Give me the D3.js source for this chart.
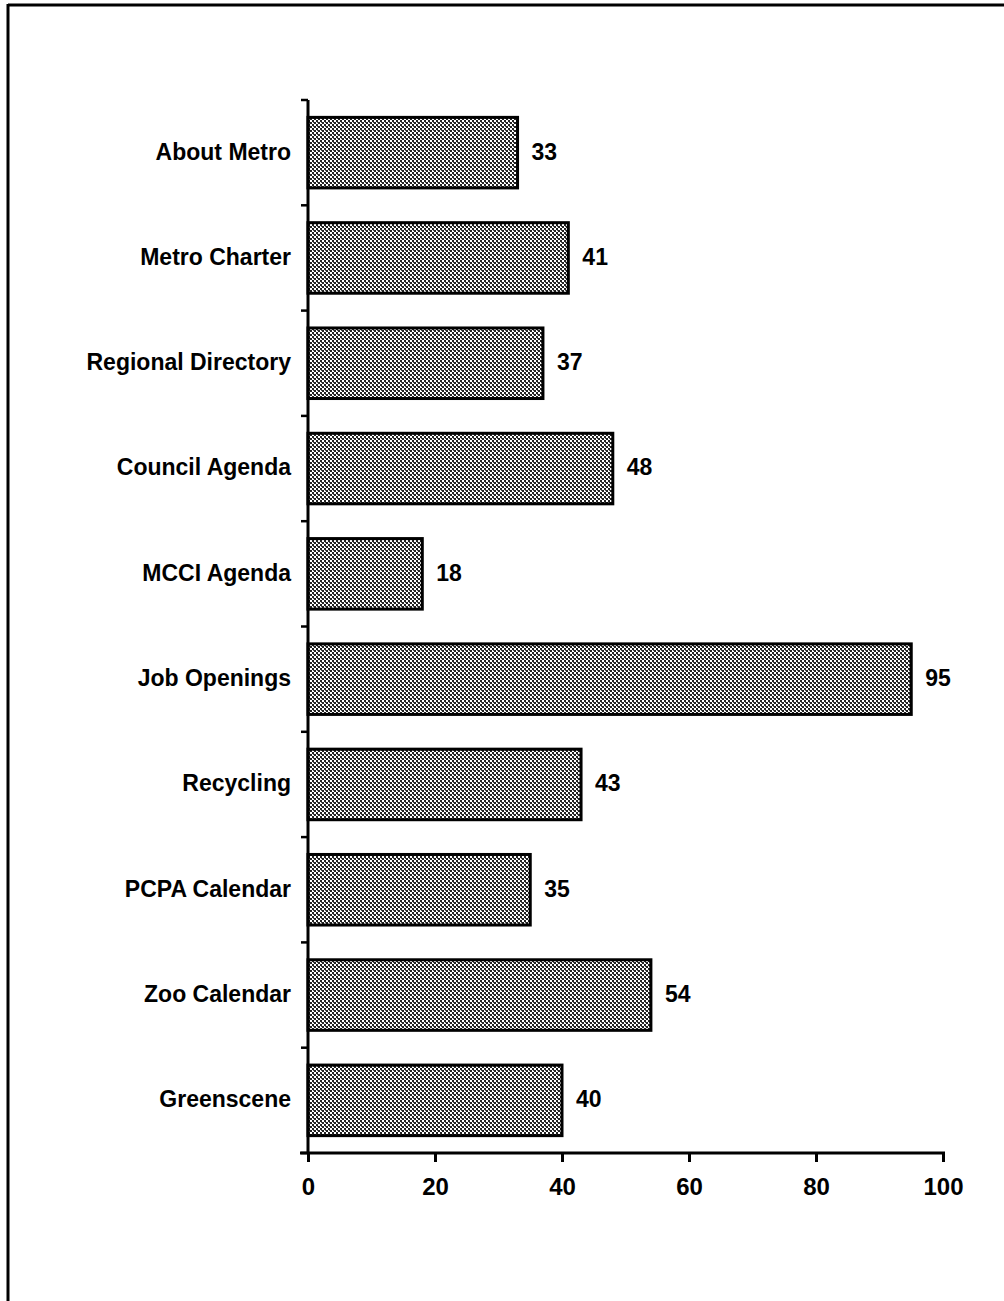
<!DOCTYPE html>
<html><head><meta charset="utf-8">
<script src="https://cdn.jsdelivr.net/npm/d3@7"></script>
<style>
body{margin:0;background:#fff;}
svg{display:block;}
text{font-family:"Liberation Sans",Arial,sans-serif;font-weight:bold;fill:#000;}
</style></head>
<body>
<script>
const categories = ["About Metro","Metro Charter","Regional Directory","Council Agenda","MCCI Agenda","Job Openings","Recycling","PCPA Calendar","Zoo Calendar","Greenscene"];
const values = [33,41,37,48,18,95,43,35,54,40];
const xTicks = [0,20,40,60,80,100];

const W=1004,H=1301;
const svg=d3.select("body").append("svg").attr("width",W).attr("height",H);

const defs=svg.append("defs");
const pat=defs.append("pattern").attr("id","dither").attr("patternUnits","userSpaceOnUse").attr("width",4).attr("height",4);
pat.append("rect").attr("width",4).attr("height",4).attr("fill","#fff");
pat.append("rect").attr("x",0).attr("y",0).attr("width",2).attr("height",2).attr("fill","#222");
pat.append("rect").attr("x",2).attr("y",2).attr("width",2).attr("height",2).attr("fill","#222");
pat.append("rect").attr("x",1).attr("y",2).attr("width",1).attr("height",1).attr("fill","#555");

// frame (top & left)
svg.append("line").attr("x1",8).attr("x2",W).attr("y1",5).attr("y2",5).attr("stroke","#000").attr("stroke-width",3);
svg.append("line").attr("x1",8).attr("x2",8).attr("y1",4).attr("y2",H).attr("stroke","#000").attr("stroke-width",3);

const x0=308, x1=943, yTop=100, yBot=1153;
const x=d3.scaleLinear().domain([0,100]).range([x0,x1]);
const y=d3.scaleBand().domain(categories).range([yTop,yBot]).paddingInner(0.33).paddingOuter(0.165);

// bars
svg.append("g").selectAll("rect").data(values).join("rect")
  .attr("x",x(0)).attr("y",(d,i)=>y(categories[i]))
  .attr("width",d=>x(d)-x(0)).attr("height",y.bandwidth())
  .attr("fill","url(#dither)").attr("stroke","#000").attr("stroke-width",3);

// value labels
svg.append("g").selectAll("text").data(values).join("text")
  .attr("x",d=>x(d)+14).attr("y",(d,i)=>y(categories[i])+y.bandwidth()/2)
  .attr("dy","0.3em").attr("font-size",23).text(d=>d);

// category labels
svg.append("g").selectAll("text").data(categories).join("text")
  .attr("x",291).attr("y",d=>y(d)+y.bandwidth()/2).attr("dy","0.3em")
  .attr("text-anchor","end").attr("font-size",23).text(d=>d);

// y axis with boundary ticks
const bounds=d3.range(categories.length+1).map(i=>yTop+i*(yBot-yTop)/categories.length);
svg.append("line").attr("x1",x0).attr("x2",x0).attr("y1",yTop).attr("y2",yBot).attr("stroke","#000").attr("stroke-width",3);
svg.append("g").selectAll("line").data(bounds).join("line")
  .attr("x1",x0-7).attr("x2",x0).attr("y1",d=>d).attr("y2",d=>d).attr("stroke","#000").attr("stroke-width",2.5);

// x axis
const xa=svg.append("g").attr("transform",`translate(0,${yBot})`)
  .call(d3.axisBottom(x).tickValues(xTicks).tickSize(9).tickPadding(16).tickFormat(d3.format("d")));
xa.select(".domain").attr("stroke","#000").attr("stroke-width",3).attr("d",`M${x0-8},0H${x1+2}`);
xa.selectAll(".tick line").attr("stroke","#000").attr("stroke-width",3);
xa.selectAll(".tick text").attr("font-size",24).attr("font-family","Liberation Sans, Arial, sans-serif").attr("font-weight","bold").attr("fill","#000");
</script>
</body></html>
